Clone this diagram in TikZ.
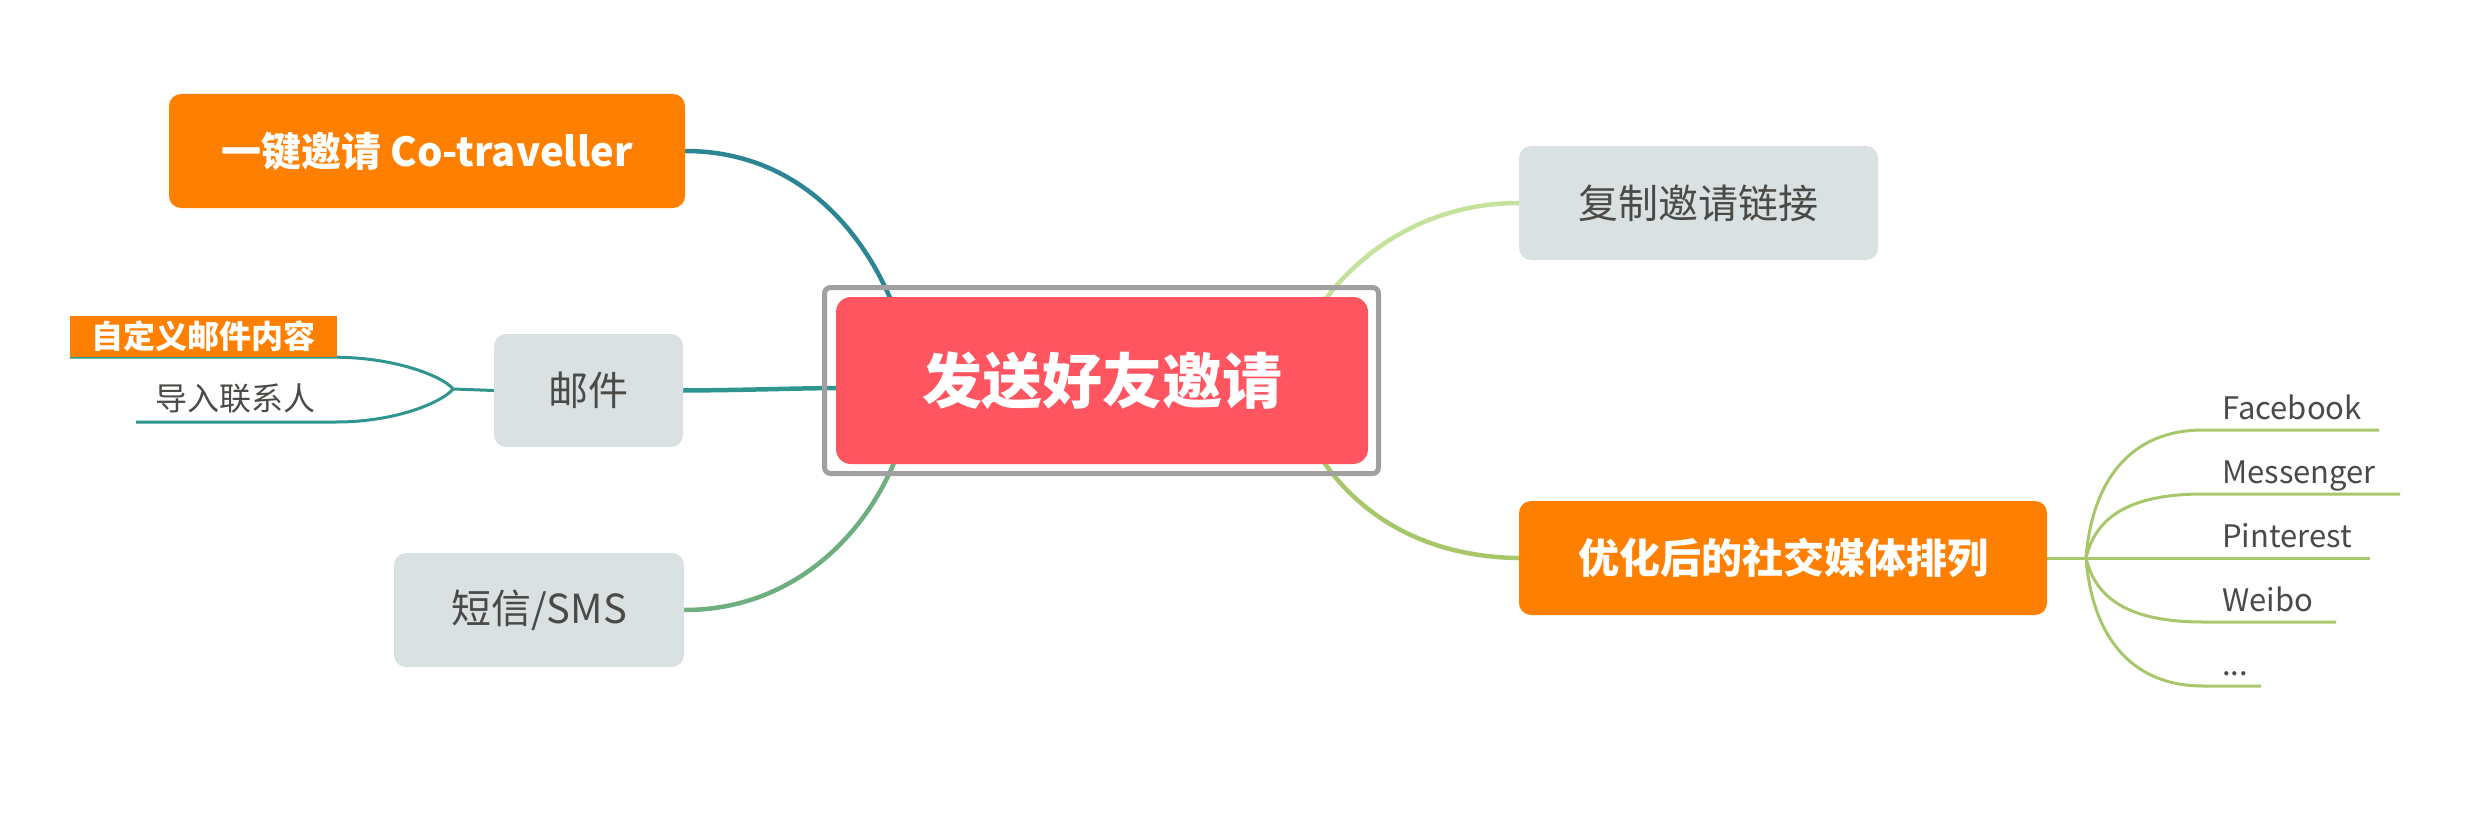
\documentclass[tikz,border=0pt]{standalone}
\usepackage{fontspec}
\setmainfont{Noto Sans CJK SC}
\usetikzlibrary{backgrounds,calc}
\definecolor{orng}{HTML}{FF8000}
\definecolor{redc}{HTML}{FF5560}
\definecolor{framegray}{HTML}{A0A0A0}
\definecolor{boxgray}{HTML}{DAE1E3}
\definecolor{txt}{HTML}{4A4A46}
\definecolor{tealA}{HTML}{2B8593}
\definecolor{tealB}{HTML}{2E958F}
\definecolor{greenA}{HTML}{6FAE7E}
\definecolor{lgreen}{HTML}{C4E29B}
\definecolor{olive}{HTML}{A8C76B}
\begin{document}
\begin{tikzpicture}[x=1pt,y=1pt,
  box/.style={rounded corners=12pt, inner sep=0pt, minimum height=114pt},
  graybox/.style={box, fill=boxgray, text=txt, font=\fontsize{40}{48}\selectfont},
  orangebox/.style={box, fill=orng, text=white, font=\bfseries\fontsize{41}{50}\selectfont},
  leaf/.style={anchor=base west, text=txt, font=\fontsize{31}{38}\selectfont, inner sep=0pt},
  conn/.style={line width=4.5pt},
  subline/.style={line width=3pt}
]
\useasboundingbox (0,0) rectangle (2492,-824);

% central topic
\node[fill=redc, rounded corners=15pt, minimum width=532pt, minimum height=167pt, inner sep=0pt,
      text=white, font=\bfseries\fontsize{60}{70}\selectfont] (root) at (1102,-380.5) {发送好友邀请};
\node[draw=framegray, line width=5pt, rounded corners=6pt, minimum width=554pt, minimum height=186pt, inner sep=0pt] (frame) at (1101.5,-380.5) {};

% main topics
\node[orangebox, minimum width=516pt, font=\bfseries\fontsize{40}{50}\selectfont] (invite) at (427,-151) {一键邀请 Co-traveller};
\node[graybox, minimum width=359pt] (copy) at (1698.5,-203) {复制邀请链接};
\node[graybox, minimum width=189pt, minimum height=113pt] (mail) at (588.5,-390.5) {邮件};
\node[graybox, minimum width=290pt] (sms) at (539,-610) {短信/SMS};
\node[orangebox, minimum width=528pt] (social) at (1783,-558) {优化后的社交媒体排列};

% mail subtopics
\node[fill=orng, text=white, font=\bfseries\fontsize{32}{38}\selectfont, inner sep=0pt,
      minimum width=267pt, minimum height=41pt] (custom) at (203.5,-336.5) {自定义邮件内容};
\node[text=txt, font=\fontsize{32}{38}\selectfont, inner sep=0pt] (contacts) at (235.5,-399) {导入联系人};
\coordinate (mj) at (453,-389);
\coordinate (ul2) at (136,-422);

% social subtopics
\coordinate (sj) at (2086,-558);
\node[leaf] (fb) at (2222,-419) {Facebook};
\node[leaf] (msg) at (2222,-483) {Messenger};
\node[leaf] (pin) at (2222,-547) {Pinterest};
\node[leaf] (wb) at (2222,-611) {Weibo};
\node[leaf] (more) at (2222,-675) {...};

\begin{scope}[on background layer]
  \draw[conn, tealA] (invite.east) .. controls (810,-151) and (880,-250) .. ($(root.north west)+(69,-43)$);
  \draw[conn, tealB] (mail.east) .. controls (760,-390) and (800,-388) .. ($(root.west)+(10,-7.5)$);
  \draw[conn, greenA] (sms.east) .. controls (810,-610) and (885,-510) .. ($(root.south west)+(69,34)$);
  \draw[conn, lgreen] (copy.west) .. controls (1420,-203) and (1340,-260) .. ($(root.north east)+(-68,-43)$);
  \draw[conn, olive] ($(root.south east)+(-68,44)$) .. controls (1340,-510) and (1420,-557) .. (social.west);

  \draw[subline, tealB] (mail.west) -- (mj);
  \draw[subline, tealB] (mj) .. controls (445,-378) and (400,-358) .. (custom.south east) -- (custom.south west);
  \draw[subline, tealB] (mj) .. controls (445,-400) and (400,-422) .. (336,-422) -- (ul2);

  \draw[subline, olive] (social.east) -- (sj);
  \draw[subline, olive] (sj) .. controls (2092,-481) and (2130,-430) .. (2203,-430) -- (2379,-430);
  \draw[subline, olive] (sj) .. controls (2095,-520) and (2125,-494) .. (2203,-494) -- (2400,-494);
  \draw[subline, olive] (sj) -- (2370,-558);
  \draw[subline, olive] (sj) .. controls (2095,-596) and (2125,-622) .. (2203,-622) -- (2336,-622);
  \draw[subline, olive] (sj) .. controls (2092,-635) and (2130,-686) .. (2203,-686) -- (2261,-686);
\end{scope}
\end{tikzpicture}
\end{document}
